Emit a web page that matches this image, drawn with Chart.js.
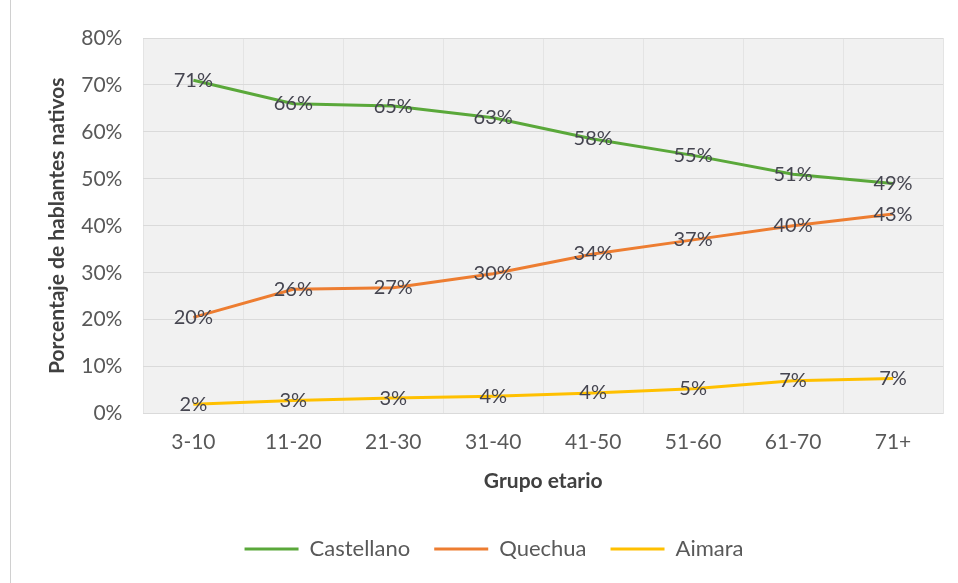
<!DOCTYPE html>
<html><head><meta charset="utf-8">
<script src="https://cdn.jsdelivr.net/npm/chart.js@4"></script>
<style>
html,body{margin:0;padding:0;background:#fff;}
#wrap{position:relative;width:958px;height:583px;}
#edge{position:absolute;left:10px;top:0;width:1px;height:583px;background:#d0d0d0;}
</style></head>
<body><div id="wrap"><div id="edge"></div><canvas id="c" width="958" height="583"></canvas></div>
<script>
const categories = ["3-10","11-20","21-30","31-40","41-50","51-60","61-70","71+"];
const castellano = [71, 66, 65.5, 63, 58.5, 55, 51, 49];
const quechua = [20.5, 26.5, 26.8, 29.8, 34, 37, 40, 42.5];
const aimara = [2, 2.8, 3.3, 3.7, 4.4, 5.3, 7, 7.5];
const castellanoLabels = ["71%","66%","65%","63%","58%","55%","51%","49%"];
const quechuaLabels = ["20%","26%","27%","30%","34%","37%","40%","43%"];
const aimaraLabels = ["2%","3%","3%","4%","4%","5%","7%","7%"];
const yTicks = [0,10,20,30,40,50,60,70,80];

const FONT = "Lato, 'Open Sans', sans-serif";

const bgPlugin = {
  id:'bg',
  beforeDraw(chart){
    const {ctx, chartArea:a} = chart;
    ctx.save();
    ctx.fillStyle = '#f1f1f1';
    ctx.fillRect(a.left, a.top, a.right-a.left, a.bottom-a.top);
    ctx.restore();
  }
};
const labelPlugin = {
  id:'dl',
  afterDatasetsDraw(chart){
    const ctx = chart.ctx;
    ctx.save();
    ctx.font = "20px " + FONT;
    ctx.fillStyle = '#454550';
    ctx.textAlign = 'center';
    ctx.textBaseline = 'middle';
    chart.data.datasets.forEach((ds, i) => {
      const meta = chart.getDatasetMeta(i);
      meta.data.forEach((pt, j) => {
        ctx.fillText(ds.valueLabels[j], pt.x, pt.y);
      });
    });
    ctx.restore();
  }
};

new Chart(document.getElementById('c'), {
  type:'line',
  data:{
    labels: categories,
    datasets:[
      {label:'Castellano', data:castellano, valueLabels:castellanoLabels, borderColor:'#5aa83a', backgroundColor:'#5aa83a', borderWidth:3, pointRadius:0, tension:0},
      {label:'Quechua', data:quechua, valueLabels:quechuaLabels, borderColor:'#ed7d31', backgroundColor:'#ed7d31', borderWidth:3, pointRadius:0, tension:0},
      {label:'Aimara', data:aimara, valueLabels:aimaraLabels, borderColor:'#ffc000', backgroundColor:'#ffc000', borderWidth:3, pointRadius:0, tension:0}
    ]
  },
  options:{
    responsive:false,
    animation:false,
    layout:{padding:{left:45, right:15, top:38, bottom:13}},
    plugins:{
      legend:{
        position:'bottom',
        labels:{
          usePointStyle:true, pointStyle:'line', pointStyleWidth:54, boxHeight:16,
          color:'#595959', font:{family:FONT, size:22}, padding:24
        }
      },
      tooltip:{enabled:false}
    },
    scales:{
      x:{
        offset:true,
        grid:{color:'#e4e4e4', drawTicks:false, offset:true},
        border:{display:false},
        ticks:{color:'#595959', font:{family:FONT, size:21}, padding:16},
        title:{display:true, text:'Grupo etario', color:'#404040', font:{family:FONT, size:21, weight:'bold'}, padding:{top:-2, bottom:20}}
      },
      y:{
        min:0, max:80,
        afterBuildTicks(axis){ axis.ticks = yTicks.map(v => ({value:v})); },
        grid:{color:'#dadada', drawTicks:false},
        border:{display:false},
        ticks:{color:'#595959', font:{family:FONT, size:21}, padding:21, callback:v => v + '%'},
        title:{display:true, text:'Porcentaje de hablantes nativos', color:'#404040', font:{family:FONT, size:21, weight:'bold'}, padding:{top:0, bottom:-10}}
      }
    }
  },
  plugins:[bgPlugin, labelPlugin]
});
</script></body></html>
